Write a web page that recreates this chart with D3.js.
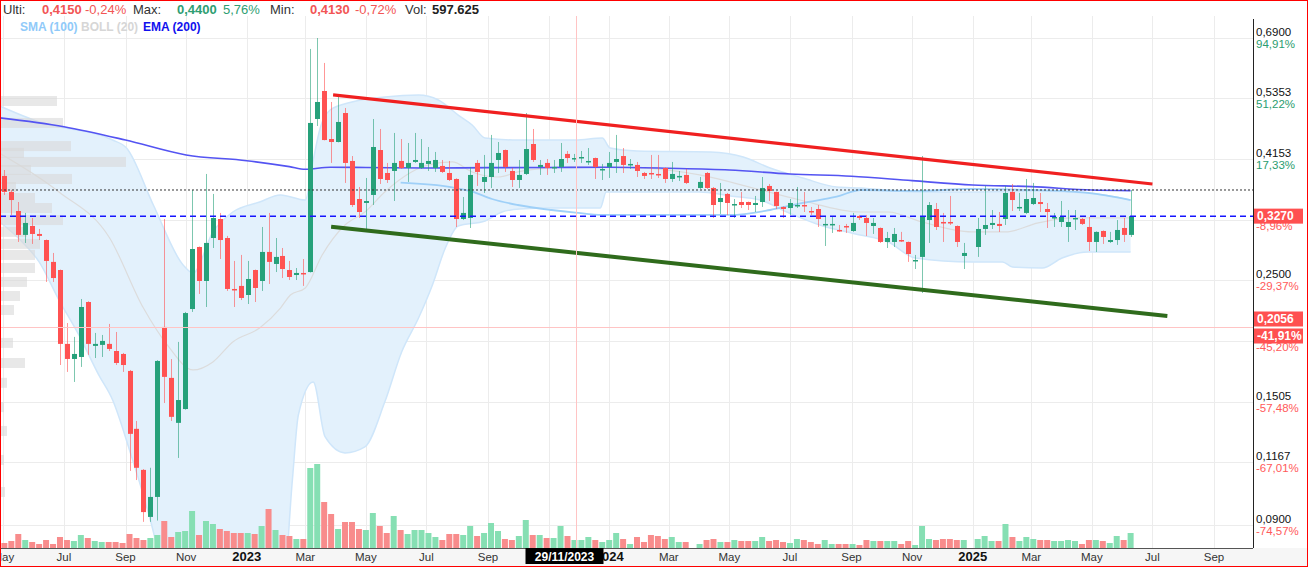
<!DOCTYPE html>
<html><head><meta charset="utf-8">
<script src="https://cdn.jsdelivr.net/npm/d3@7"></script>
<style>
html,body{margin:0;padding:0;background:#fff;}
svg{display:block;font-family:"Liberation Sans",Arial,sans-serif;}
</style></head><body>
<svg id="c" width="1308" height="567"></svg>
<script>
// ---------------- DATA ----------------
const firstWeek = "2022-05-02";
const skippedWeeks = ["2024-03-25", "2024-12-30"];
const opens = [.3869,.3618,.3341,.3023,.3138,.3035,.2959,.2700,.2610,.1916,.1799,.1814,.2283,.1900,.1908,.1916,.1860,.1837,.1711,.1343,.1131,.0929,.1010,.2057,.1662,.1377,.1459,.2217,.2874,.2493,.2984,.3231,.2984,.2411,.2442,.2351,.2610,.2493,.2815,.2677,.2768,.2610,.2556,.2578,.2588,.4910,.5520,.4515,.4459,.5034,.4119,.3513,.3455,.3573,.4312,.3917,.3950,.4119,.4000,.4102,.4000,.4068,.4000,.4034,.3917,.3820,.3231,.3245,.4085,.3773,.3852,.4136,.4312,.3950,.3804,.3901,.4422,.4017,.4085,.4000,.4017,.4242,.4153,.4170,.4102,.4170,.3966,.4017,.4102,.4205,.4051,.4051,.3917,.3917,.3901,.4000,.3820,.3852,.3885,.3679,.3917,.3679,.3469,.3588,.3426,.3469,.3469,.3426,.3469,.3710,.3618,.3398,.3383,.3412,.3426,.3341,.3369,.3151,.3151,.3086,.3138,.3073,.3272,.3245,.3138,.3112,.2935,.2935,.2959,.2935,.2711,.2757,.3217,.3369,.3191,.3191,.3138,.2768,.2874,.3099,.3151,.3165,.3231,.3618,.3383,.3314,.3440,.3469,.3369,.3245,.3191,.3125,.3231,.3231,.3125,.2935,.3073,.2935,.2959,.3112,.3023];
const highs = [.3966,.3648,.3469,.3314,.3245,.3099,.2965,.2803,.2615,.2091,.1973,.2312,.2290,.2006,.1989,.2083,.2014,.1845,.1718,.1388,.1135,.1141,.1790,.3231,.1798,.1932,.2190,.3648,.2880,.3901,.3588,.3314,.3010,.2711,.2780,.2711,.2615,.3125,.3314,.2984,.2862,.2711,.2632,.2733,.6581,.6890,.6207,.5272,.5406,.5141,.4205,.3694,.3836,.4909,.4709,.4085,.4631,.4515,.4441,.4631,.4515,.4367,.4277,.4136,.4119,.3830,.3543,.4017,.4136,.4224,.4593,.4459,.4320,.4000,.4136,.5034,.4709,.4136,.4153,.4136,.4441,.4295,.4242,.4295,.4348,.4178,.4068,.4277,.4593,.4348,.4153,.4102,.3934,.4224,.4224,.4008,.4102,.3950,.3983,.3852,.3934,.3694,.3757,.3603,.3513,.3618,.3475,.3558,.3852,.3741,.3625,.3405,.3513,.3694,.3618,.3398,.3426,.3272,.3258,.3151,.3165,.3314,.3286,.3286,.3245,.3118,.3061,.3112,.3061,.2940,.2780,.4205,.3469,.3455,.3314,.3558,.3145,.2923,.3245,.3710,.3355,.3327,.3710,.3741,.3603,.3820,.3757,.3603,.3455,.3314,.3484,.3355,.3355,.3245,.3258,.3068,.3080,.3061,.3217,.3245,.3648];
const lows = [.3573,.3286,.2935,.2923,.2911,.2959,.2483,.2483,.1754,.1704,.1634,.1740,.1830,.1806,.1814,.1860,.1754,.1704,.1126,.1084,.0910,.0910,.0915,.1496,.1388,.1189,.1455,.2190,.2361,.2236,.2862,.2733,.2391,.2236,.2302,.2264,.2283,.2391,.2462,.2588,.2524,.2503,.2503,.2442,.2583,.4768,.4490,.4085,.4452,.3757,.3398,.3245,.3061,.3426,.3741,.3757,.3484,.3983,.3773,.4085,.3983,.3950,.3934,.3917,.3788,.3125,.3217,.3112,.3710,.3603,.3679,.3917,.3934,.3694,.3679,.3885,.4102,.3885,.3885,.3917,.3934,.4085,.4102,.4085,.4051,.3820,.3804,.3836,.3917,.3917,.3983,.3852,.3820,.3820,.3836,.3757,.3773,.3788,.3741,.3664,.3664,.3245,.3300,.3286,.3245,.3383,.3355,.3327,.3398,.3484,.3369,.3245,.3286,.3383,.3327,.3286,.3125,.2886,.3048,.3061,.3048,.3061,.3217,.3010,.3035,.2923,.2862,.2874,.2935,.2700,.2621,.2371,.2923,.3086,.2935,.3151,.2874,.2621,.2757,.3023,.3099,.3061,.3151,.3341,.3341,.3300,.3426,.3327,.3112,.3125,.3125,.2935,.3086,.3151,.2826,.2815,.2911,.2923,.2899,.2935,.2997];
const closes = [.3618,.3498,.3023,.3178,.3035,.3010,.2711,.2524,.1916,.1799,.1837,.2236,.1916,.1916,.1940,.1876,.1769,.1754,.1315,.1141,.0948,.1010,.1784,.1669,.1412,.1515,.2180,.2850,.2493,.2923,.3245,.2959,.2411,.2401,.2322,.2514,.2421,.2815,.2700,.2757,.2621,.2535,.2578,.2567,.4829,.5272,.4496,.4459,.4849,.4085,.3426,.3327,.3484,.4367,.3820,.3804,.4085,.4000,.4085,.4136,.4085,.4119,.4136,.3934,.3804,.3231,.3314,.3885,.3934,.3852,.4085,.4259,.4017,.3804,.3885,.4330,.4136,.4051,.4000,.4017,.4153,.4170,.4170,.4188,.4119,.4017,.3983,.4085,.4153,.4051,.4068,.3950,.3869,.3901,.3885,.3820,.3901,.3869,.3757,.3773,.3679,.3426,.3528,.3455,.3440,.3426,.3426,.3455,.3679,.3633,.3412,.3369,.3455,.3426,.3412,.3327,.3231,.3165,.3165,.3073,.3125,.3178,.3245,.3178,.3178,.2935,.2984,.3035,.2947,.2791,.2722,.3258,.3426,.3125,.3178,.3178,.2935,.2803,.3099,.3151,.3178,.3138,.3603,.3498,.3398,.3513,.3528,.3440,.3327,.3258,.3258,.3191,.3245,.3165,.2935,.3061,.2997,.2959,.3086,.3023,.3270];
const volumes = [100,140,280,160,120,80,160,80,220,160,140,260,200,140,120,120,120,100,280,200,160,200,260,540,220,320,340,740,260,540,480,380,340,300,300,300,280,440,780,360,260,240,180,180,1600,1680,920,680,380,520,520,380,360,700,440,300,640,360,280,360,360,300,220,160,280,280,260,440,240,300,500,340,180,160,240,560,260,260,200,200,440,240,160,160,220,160,120,160,300,180,80,220,120,260,240,180,220,120,120,80,160,180,120,120,160,140,140,140,220,140,160,120,100,180,160,120,80,160,80,80,80,80,60,160,140,140,140,140,80,140,60,440,180,160,180,180,160,160,180,240,140,140,480,220,140,220,180,160,160,140,140,160,140,80,160,160,140,100,240,160,300];

const emaDates = ["2022-04-25","2022-07-01","2022-09-01","2022-11-01","2023-01-01","2023-02-13","2023-03-01","2023-03-26","2023-05-01","2023-07-01","2023-09-01","2023-11-01","2024-01-01","2024-03-01","2024-05-01","2024-07-01","2024-09-01","2024-11-01","2025-01-01","2025-03-01","2025-05-01","2025-06-09"];
const emaValues = [.4940,.4754,.4496,.4224,.4124,.4022,.3978,.4012,.4008,.4000,.4005,.4008,.4012,.3995,.3966,.3901,.3864,.3793,.3726,.3700,.3648,.3638];

const smaDates = ["2023-06-05","2023-07-27","2023-08-16","2023-09-05","2023-10-01","2023-11-04","2023-11-28","2023-12-25","2024-03-01","2024-05-02","2024-06-11","2024-07-14","2024-08-17","2024-09-10","2024-11-03","2024-12-31","2025-03-02","2025-04-27","2025-06-09"];
const smaValues = [.3762,.3689,.3622,.3513,.3426,.3355,.3318,.3286,.3286,.3286,.3355,.3455,.3547,.3648,.3633,.3663,.3648,.3603,.3498];

const bollUpperDates = ["2022-04-25","2022-06-06","2022-08-19","2022-09-02","2022-09-29","2022-10-29","2022-11-08","2022-11-28","2022-12-18","2023-01-14","2023-02-04","2023-03-01","2023-03-09","2023-03-16","2023-03-26","2023-04-17","2023-05-20","2023-06-23","2023-07-13","2023-08-02","2023-08-16","2023-08-29","2023-10-01","2023-11-28","2023-12-25","2024-01-02","2024-01-29","2024-04-12","2024-05-15","2024-06-11","2024-07-14","2024-08-17","2024-09-10","2024-11-03","2024-12-31","2025-03-02","2025-04-27","2025-06-09"];
const bollUpperValues = [.5207,.4849,.4496,.4348,.3426,.2666,.2578,.3061,.3327,.3469,.3573,.3498,.4136,.4728,.5098,.5272,.5383,.5429,.5316,.4992,.4789,.4534,.4496,.4496,.4534,.4348,.4295,.4277,.4188,.4000,.3836,.3694,.3679,.3618,.3618,.3633,.3603,.3498];

const bollMidDates = ["2022-04-25","2022-06-26","2022-08-16","2022-09-19","2022-10-13","2022-11-08","2022-11-28","2022-12-18","2023-01-14","2023-02-04","2023-02-14","2023-03-01","2023-03-18","2023-04-10","2023-04-30","2023-05-20","2023-06-16","2023-07-03","2023-07-27","2023-08-16","2023-09-11","2023-10-01","2023-11-04","2023-11-28","2024-02-01","2024-04-01","2024-05-25","2024-07-11","2024-09-10","2024-10-08","2024-11-11","2024-12-31","2025-02-03","2025-03-08","2025-04-11","2025-06-09"];
const bollMidValues = [.4277,.3618,.2984,.2226,.1908,.1718,.1777,.1932,.2048,.2226,.2351,.2421,.2780,.3151,.3327,.3618,.3934,.4051,.4102,.3934,.3852,.3934,.4000,.4017,.4000,.3885,.3679,.3498,.3327,.3327,.3191,.3061,.3061,.3178,.3245,.3245];

const bollLowerDates = ["2022-04-25","2022-05-18","2022-06-06","2022-06-26","2022-07-16","2022-08-05","2022-08-19","2022-09-05","2022-09-26","2022-10-06","2022-10-26","2023-02-04","2023-02-16","2023-02-22","2023-03-09","2023-03-21","2023-04-10","2023-04-30","2023-05-20","2023-06-06","2023-06-23","2023-07-07","2023-07-20","2023-08-02","2023-08-29","2023-09-15","2023-10-03","2023-11-04","2023-12-23","2023-12-29","2024-02-01","2024-04-01","2024-05-02","2024-06-01","2024-06-28","2024-07-31","2024-09-05","2024-10-08","2024-11-04","2024-12-31","2025-01-31","2025-02-10","2025-03-12","2025-04-01","2025-04-27","2025-06-09"];
const bollLowerValues = [.3217,.2959,.2700,.2302,.1989,.1683,.1515,.1229,.0917,.0778,.0600,.0600,.1084,.1423,.1634,.1298,.1214,.1245,.1502,.1852,.2135,.2452,.2862,.3138,.3204,.3327,.3369,.3383,.3383,.3618,.3618,.3618,.3558,.3498,.3327,.3151,.3035,.2935,.2745,.2700,.2700,.2643,.2632,.2745,.2815,.2815];

const profilePrices = [.5294,.4829,.4384,.4259,.4102,.3966,.3820,.3694,.3528,.3383,.3217,.3061,.2911,.2780,.2632,.2483,.2341,.2208,.1924,.1769,.1628,.1471,.1331,.1179,.1031];
const profileVolumes = [57,63,71,24,126,31,72,16,35,52,63,27,40,35,35,27,20,14,13,25,7,4,7,4,5];

const resistanceLine = [["2023-03-29", .5429], ["2025-07-01", .3741]];
const supportLine = [["2023-03-27", .3129], ["2025-07-16", .2153]];
const lastPriceLevel = 0.3270;
const highLevel = 0.3648;
const crosshair = {date: "2023-11-29", price: 0.2056, dateLabel: "29/11/2023", priceLabel: "0,2056", pctLabel: "-41,91%"};

const priceTicks = [0.69, 0.5353, 0.4153, 0.3222, 0.25, 0.1940, 0.1505, 0.1167, 0.09];
const priceTickLabels = ["0,6900","0,5353","0,4153","0,3222","0,2500","0,1940","0,1505","0,1167","0,0900"];
const pctTickLabels = ["94,91%","51,22%","17,33%","-8,96%","-29,37%","-45,20%","-57,48%","-67,01%","-74,57%"];
const monthNames = ["Jan","Feb","Mar","Apr","May","Jun","Jul","Aug","Sep","Oct","Nov","Dec"];
const headerItems = [["Ulti:","0,4150","-0,24%","down"],["Max:","0,4400","5,76%","up"],["Min:","0,4130","-0,72%","down"],["Vol:","597.625","","vol"]];
const legendItems = [["SMA (100)","#90caf9"],["BOLL (20)","#d6d6d6"],["EMA (200)","#1010ee"]];

// ---------------- LAYOUT ----------------
const W = 1308, H = 567;
const P = {left: 0, right: 1253, top: 16, bottom: 548};
const GREEN = "#26a17a", RED = "#ff5252";
const parse = s => new Date(s + "T00:00:00Z");
const svg = d3.select("#c");

const x = d3.scaleUtc().domain([parse("2023-01-01"), parse("2025-01-01")]).range([246.7, 972.7]);
const y = d3.scaleLog().domain([0.4153, 0.09]).range([159, 524.5]);
const yv = d3.scaleLinear().domain([0, 1700]).range([P.bottom, P.bottom - 85]);
const xp = d3.scaleLinear().domain([0, 126]).range([0, 126]);

const dates = [];
{ let d = parse(firstWeek);
  while (dates.length < opens.length) {
    const s = d.toISOString().slice(0, 10);
    if (!skippedWeeks.includes(s)) dates.push(d);
    d = d3.utcDay.offset(d, 7);
  } }
const candles = dates.map((d, i) => ({d, o: opens[i], h: highs[i], l: lows[i], c: closes[i], v: volumes[i]}));

svg.append("rect").attr("width", W).attr("height", H).attr("fill", "#fff");
svg.append("defs").append("clipPath").attr("id", "clip")
  .append("rect").attr("x", P.left).attr("y", P.top).attr("width", P.right - P.left).attr("height", P.bottom - P.top);
const g = svg.append("g").attr("clip-path", "url(#clip)");

// grid
const monthTicks = d3.utcMonth.every(2).range(parse("2022-05-01"), parse("2025-10-01"));
g.append("g").selectAll("line").data(monthTicks).join("line")
  .attr("x1", d => Math.round(x(d)) + 0.5).attr("x2", d => Math.round(x(d)) + 0.5)
  .attr("y1", P.top).attr("y2", P.bottom).attr("stroke", "#ececec");
g.append("g").selectAll("line").data(priceTicks).join("line")
  .attr("x1", P.left).attr("x2", P.right)
  .attr("y1", d => Math.round(y(d)) + 0.5).attr("y2", d => Math.round(y(d)) + 0.5).attr("stroke", "#ececec");

// bollinger band
const up = bollUpperDates.map((d, i) => [parse(d), bollUpperValues[i]]);
const lo = bollLowerDates.map((d, i) => [parse(d), bollLowerValues[i]]);
const lineGen = d3.line().x(p => x(p[0])).y(p => y(p[1])).curve(d3.curveMonotoneX);
const bandPath = lineGen(up) + "L" + lineGen(lo.slice().reverse()).slice(1) + "Z";
g.append("path").attr("d", bandPath).attr("fill", "#e3f1fc").attr("stroke", "none");
g.append("path").attr("d", lineGen(up)).attr("fill", "none").attr("stroke", "#cfe6fa").attr("stroke-width", 1.5);
g.append("path").attr("d", lineGen(lo)).attr("fill", "none").attr("stroke", "#cfe6fa").attr("stroke-width", 1.5);
const mid = bollMidDates.map((d, i) => [parse(d), bollMidValues[i]]);
g.append("path").attr("d", lineGen(mid)).attr("fill", "none").attr("stroke", "#dcdcdc").attr("stroke-width", 1.2);

// volume profile
const bh = 10;
g.append("g").selectAll("rect").data(profilePrices).join("rect")
  .attr("x", P.left).attr("y", d => y(d) - bh / 2).attr("height", bh)
  .attr("width", (d, i) => xp(profileVolumes[i])).attr("fill", "#d8d8d8").attr("opacity", 0.6);

// volume bars
g.append("g").selectAll("rect").data(candles).join("rect")
  .attr("x", d => x(d.d) - 3).attr("width", 6)
  .attr("y", d => yv(d.v)).attr("height", d => P.bottom - yv(d.v))
  .attr("fill", d => d.c >= d.o ? "#86dfb3" : "#f88c8c");

// SMA 100 / EMA 200
const sma = smaDates.map((d, i) => [parse(d), smaValues[i]]);
g.append("path").attr("d", lineGen(sma)).attr("fill", "none").attr("stroke", "#9fd0f8").attr("stroke-width", 1.8);
const ema = emaDates.map((d, i) => [parse(d), emaValues[i]]);
g.append("path").attr("d", lineGen(ema)).attr("fill", "none").attr("stroke", "#5454f2").attr("stroke-width", 1.6);

// candles
const cg = g.append("g");
cg.selectAll("line").data(candles).join("line")
  .attr("x1", d => Math.round(x(d.d)) + 0.5).attr("x2", d => Math.round(x(d.d)) + 0.5)
  .attr("y1", d => y(d.h)).attr("y2", d => y(d.l))
  .attr("stroke", d => d.c >= d.o ? GREEN : RED).attr("stroke-opacity", 0.6).attr("stroke-width", 1);
cg.selectAll("rect").data(candles).join("rect")
  .attr("x", d => Math.round(x(d.d)) - 2).attr("width", 5)
  .attr("y", d => y(Math.max(d.o, d.c)))
  .attr("height", d => Math.max(1.5, y(Math.min(d.o, d.c)) - y(Math.max(d.o, d.c))))
  .attr("fill", d => d.c >= d.o ? GREEN : RED);

// horizontal levels
g.append("line").attr("x1", P.left).attr("x2", P.right).attr("y1", y(highLevel)).attr("y2", y(highLevel))
  .attr("stroke", "#333").attr("stroke-dasharray", "2,2").attr("stroke-width", 1);
g.append("line").attr("x1", P.left).attr("x2", P.right).attr("y1", y(lastPriceLevel)).attr("y2", y(lastPriceLevel))
  .attr("stroke", "#1515ff").attr("stroke-dasharray", "6,4").attr("stroke-width", 1.5);

// trend lines
const tl = d3.line().x(p => x(parse(p[0]))).y(p => y(p[1]));
g.append("path").attr("d", tl(resistanceLine)).attr("stroke", "#f02020").attr("stroke-width", 3.2).attr("fill", "none");
g.append("path").attr("d", tl(supportLine)).attr("stroke", "#2f6b1c").attr("stroke-width", 4).attr("fill", "none");

// crosshair
const cx = Math.round(x(parse(crosshair.date))) + 0.5, cy = Math.round(y(crosshair.price)) + 0.5;
g.append("line").attr("x1", cx).attr("x2", cx).attr("y1", P.top).attr("y2", P.bottom).attr("stroke", "#ffc4c4");
g.append("line").attr("x1", P.left).attr("x2", P.right).attr("y1", cy).attr("y2", cy).attr("stroke", "#ffc4c4");

// axes frame
svg.append("rect").attr("x", 0).attr("y", P.bottom).attr("width", W).attr("height", H - P.bottom).attr("fill", "#f6f6f6");
svg.append("line").attr("x1", 0).attr("x2", P.right).attr("y1", P.bottom + 0.5).attr("y2", P.bottom + 0.5).attr("stroke", "#555");
svg.append("line").attr("x1", P.right + 0.5).attr("x2", P.right + 0.5).attr("y1", P.top + 3).attr("y2", P.bottom).attr("stroke", "#222");

// markers on the right axis
const markerTops = [y(lastPriceLevel) - 7.5, cy - 16, cy + 1];
const covered = yy => markerTops.some(t => yy > t - 2 && yy < t + 17);

// right axis labels (labels fully hidden under markers are not drawn)
const ra = svg.append("g").attr("font-size", 11.5);
priceTicks.forEach((t, i) => {
  const yy = y(t);
  if (!covered(yy - 6)) ra.append("text").attr("x", 1256).attr("y", yy - 2).attr("fill", "#111").text(priceTickLabels[i]);
  ra.append("text").attr("x", 1256).attr("y", yy + 10).attr("fill", pctTickLabels[i].startsWith("-") ? "#ff5a5a" : "#2a9d6f").text(pctTickLabels[i]);
});
function marker(yTop, label) {
  svg.append("rect").attr("x", 1254).attr("y", yTop).attr("width", 49).attr("height", 15).attr("fill", "#ff5050");
  svg.append("text").attr("x", 1257).attr("y", yTop + 11.5).attr("fill", "#fff").attr("font-weight", "bold").attr("font-size", 12).text(label);
}
marker(markerTops[0], d3.format(".4f")(lastPriceLevel).replace(".", ","));
marker(markerTops[1], crosshair.priceLabel);
marker(markerTops[2], crosshair.pctLabel);

// bottom axis labels (a label fully under the crosshair date box is not drawn)
const boxL = cx - 51, boxR = cx + 27;
const ba = svg.append("g").attr("text-anchor", "middle");
monthTicks.forEach(d => {
  const m = d.getUTCMonth();
  const isYear = m === 0;
  const xx = x(d);
  if (xx - 10 > boxL && xx + 10 < boxR) return;
  ba.append("text").attr("x", xx).attr("y", 561)
    .attr("font-size", isYear ? 13 : 11.5).attr("font-weight", isYear ? "bold" : "normal")
    .attr("fill", isYear ? "#111" : "#333")
    .text(isYear ? d.getUTCFullYear() : monthNames[m]);
});
svg.append("rect").attr("x", boxL).attr("y", 548).attr("width", boxR - boxL).attr("height", 16).attr("fill", "#000");
svg.append("text").attr("x", (boxL + boxR) / 2).attr("y", 560.5).attr("text-anchor", "middle").attr("fill", "#fff")
  .attr("font-weight", "bold").attr("font-size", 12).text(crosshair.dateLabel);

// header
const hx = [[3, 42, 85], [133, 177, 223], [270, 310, 355], [405, 432, 0]];
const hg = svg.append("g").attr("font-size", 13);
headerItems.forEach((it, i) => {
  const col = it[3] === "up" ? "#2e9e72" : it[3] === "down" ? "#f25555" : "#222";
  hg.append("text").attr("x", hx[i][0]).attr("y", 14).attr("fill", "#333").text(it[0]);
  hg.append("text").attr("x", hx[i][1]).attr("y", 14).attr("fill", col).attr("font-weight", "bold").text(it[1]);
  if (it[2]) hg.append("text").attr("x", hx[i][2]).attr("y", 14).attr("fill", col).text(it[2]);
});
const lx = [20, 81, 143];
legendItems.forEach((it, i) => {
  svg.append("text").attr("x", lx[i]).attr("y", 31).attr("font-size", 12).attr("font-weight", "bold").attr("fill", it[1]).text(it[0]);
});

// outer border
svg.append("rect").attr("x", 0.5).attr("y", 0.5).attr("width", W - 1).attr("height", H - 1).attr("fill", "none").attr("stroke", "#ff0000");
</script>
</body></html>
